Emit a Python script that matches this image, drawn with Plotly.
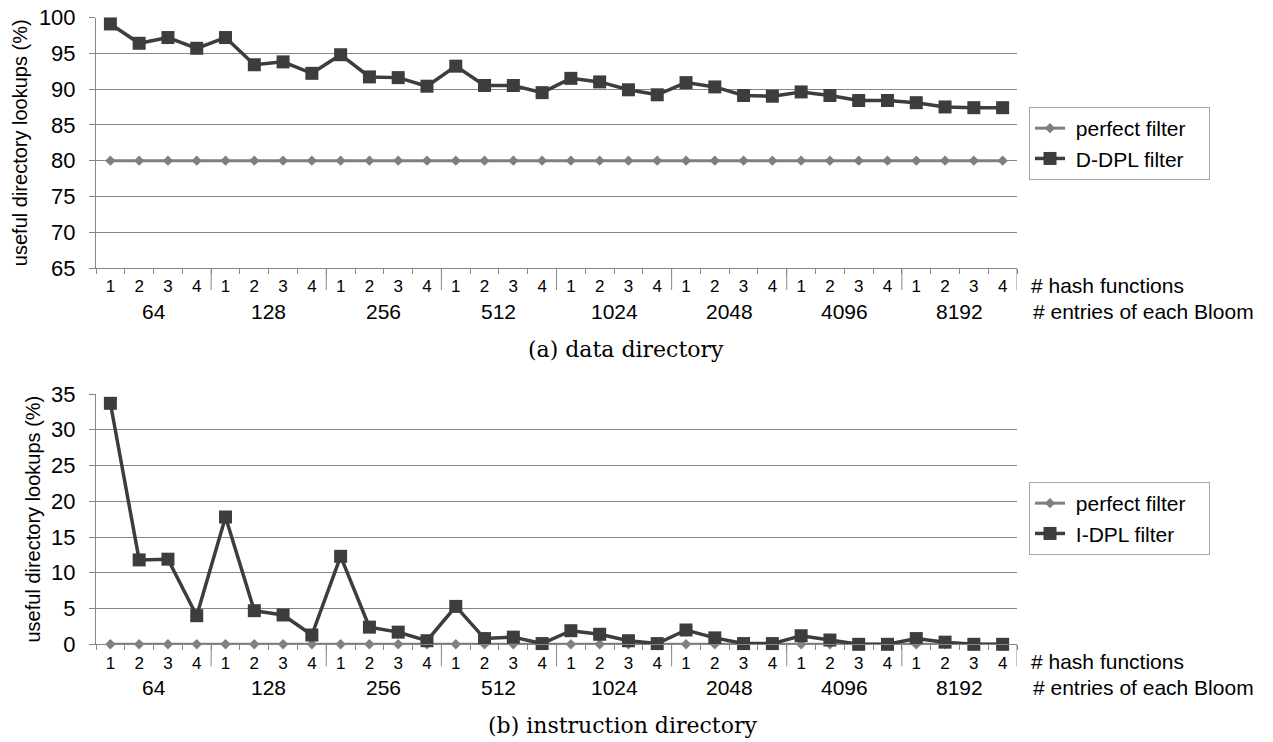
import plotly.graph_objects as go

# ---------------- data ----------------
bloom_entries = ["64", "128", "256", "512", "1024", "2048", "4096", "8192"]
hash_functions = ["1", "2", "3", "4"]

perfect_data = [80, 80, 80, 80, 80, 80, 80, 80, 80, 80, 80, 80, 80, 80, 80, 80,
                80, 80, 80, 80, 80, 80, 80, 80, 80, 80, 80, 80, 80, 80, 80, 80]
d_dpl = [99.1, 96.4, 97.2, 95.7, 97.2, 93.4, 93.8, 92.2,
         94.8, 91.7, 91.6, 90.4, 93.2, 90.5, 90.5, 89.5,
         91.5, 91.0, 89.9, 89.2, 90.9, 90.3, 89.1, 89.0,
         89.6, 89.1, 88.4, 88.4, 88.1, 87.5, 87.4, 87.4]

perfect_instr = [0, 0, 0, 0, 0, 0, 0, 0, 0, 0, 0, 0, 0, 0, 0, 0,
                 0, 0, 0, 0, 0, 0, 0, 0, 0, 0, 0, 0, 0, 0, 0, 0]
i_dpl = [33.7, 11.8, 11.9, 4.0, 17.8, 4.7, 4.1, 1.3,
         12.3, 2.4, 1.7, 0.5, 5.3, 0.8, 1.0, 0.1,
         1.9, 1.4, 0.5, 0.1, 2.0, 0.9, 0.1, 0.1,
         1.2, 0.6, 0.0, 0.0, 0.8, 0.3, 0.0, 0.0]

series_names_a = ["perfect filter", "D-DPL filter"]
series_names_b = ["perfect filter", "I-DPL filter"]
y_title = "useful directory lookups (%)"
caption_a = "(a) data directory"
caption_b = "(b) instruction directory"
row_label_hash = "# hash functions"
row_label_entries = "# entries of each Bloom"

# ---------------- derived ----------------
n_per_group = len(hash_functions)
n = len(bloom_entries) * n_per_group
xs = list(range(n))
tick_text = [hash_functions[i % n_per_group] for i in xs]
boundaries = [i - 0.5 for i in range(n + 1)]
separators = [g * n_per_group - 0.5 for g in range(1, len(bloom_entries) + 1)]
group_centers = [g * n_per_group + (n_per_group - 1) / 2 for g in range(len(bloom_entries))]

NB = "\u00a0"


def legend_name(s, width=15):
    # pad with non-breaking spaces so the legend box gets the reference's padding
    return NB + s + NB * max(3, width - len(s))


W, H = 1273, 742
FONT = "Liberation Sans"
SERIF = "DejaVu Serif"
GRID = "#868686"
DARK = "#3d3d3d"
LIGHT = "#7f7f7f"

px_left, px_right = 96, 1017
top_y0, top_y1 = 17.5, 268.0
bot_y0, bot_y1 = 394.0, 644.3


def dom_y(a, b):
    return [(H - b) / H, (H - a) / H]


fig = go.Figure()

fig.add_trace(go.Scatter(x=xs, y=perfect_data, name=legend_name(series_names_a[0]), mode="lines+markers",
                         line=dict(color=LIGHT, width=3),
                         marker=dict(symbol="diamond", size=8, color=LIGHT),
                         xaxis="x", yaxis="y", legend="legend", cliponaxis=False))
fig.add_trace(go.Scatter(x=xs, y=d_dpl, name=legend_name(series_names_a[1]), mode="lines+markers",
                         line=dict(color=DARK, width=3.5),
                         marker=dict(symbol="square", size=13, color=DARK),
                         xaxis="x", yaxis="y", legend="legend", cliponaxis=False))
fig.add_trace(go.Scatter(x=xs, y=perfect_instr, name=legend_name(series_names_b[0]), mode="lines+markers",
                         line=dict(color=LIGHT, width=3),
                         marker=dict(symbol="diamond", size=8, color=LIGHT),
                         xaxis="x2", yaxis="y2", legend="legend2", cliponaxis=False))
fig.add_trace(go.Scatter(x=xs, y=i_dpl, name=legend_name(series_names_b[1]), mode="lines+markers",
                         line=dict(color=DARK, width=3.5),
                         marker=dict(symbol="square", size=13, color=DARK),
                         xaxis="x2", yaxis="y2", legend="legend2", cliponaxis=False))

xdom = [px_left / W, px_right / W]


def xaxis_cfg(anchor):
    return dict(domain=xdom, anchor=anchor, range=[-0.5, n - 0.5], showgrid=False,
                zeroline=False, showline=True, linecolor=GRID, linewidth=1,
                tickmode="array", tickvals=xs, ticktext=tick_text, ticks="",
                tickfont=dict(family=FONT, size=17, color="black"),
                ticklabelstandoff=3,
                minor=dict(tickmode="array", tickvals=boundaries, ticks="outside",
                           ticklen=5, tickcolor=GRID, tickwidth=1, showgrid=False),
                automargin=False, fixedrange=True)


def yaxis_cfg(anchor, dom, rng):
    return dict(domain=dom, anchor=anchor, range=rng, dtick=5, tick0=0,
                showgrid=True, gridcolor=GRID, gridwidth=1.3, zeroline=False,
                showline=True, linecolor=GRID, linewidth=1,
                ticks="outside", ticklen=6, tickcolor=GRID,
                ticklabelstandoff=9,
                tickfont=dict(family=FONT, size=22, color="black"),
                title=dict(text=y_title, font=dict(family=FONT, size=20, color="black"), standoff=5),
                automargin=False, fixedrange=True)


legend_common = dict(xanchor="left", yanchor="top",
                     bordercolor="#a6a6a6", borderwidth=1, bgcolor="white",
                     font=dict(family=FONT, size=21, color="black"), tracegroupgap=0)

layout = dict(
    width=W, height=H, margin=dict(l=0, r=0, t=0, b=0),
    paper_bgcolor="white", plot_bgcolor="white",
    xaxis=xaxis_cfg("y"),
    yaxis=yaxis_cfg("x", dom_y(top_y0, top_y1), [65, 100]),
    xaxis2=xaxis_cfg("y2"),
    yaxis2=yaxis_cfg("x2", dom_y(bot_y0, bot_y1), [0, 35]),
    legend=dict(x=1029 / W, y=(H - 107) / H, **legend_common),
    legend2=dict(x=1029 / W, y=(H - 482) / H, **legend_common),
    showlegend=True,
)
fig.update_layout(**layout)

shapes = []
annotations = []
for xr, yr, y0, y1 in (("x", "y", top_y0, top_y1), ("x2", "y2", bot_y0, bot_y1)):
    h = y1 - y0
    for b in separators:
        shapes.append(dict(type="line", xref=xr, yref=yr + " domain", x0=b, x1=b,
                           y0=0, y1=-22 / h, line=dict(color=GRID, width=1)))
    for gc, lab in zip(group_centers, bloom_entries):
        annotations.append(dict(x=gc, y=-43 / h, xref=xr, yref=yr + " domain", text=lab,
                                showarrow=False, xanchor="center", yanchor="middle",
                                font=dict(family=FONT, size=21, color="black")))
    annotations.append(dict(x=1029 / W, y=-17 / h, xref="paper", yref=yr + " domain",
                            text=row_label_hash, showarrow=False, xanchor="left",
                            yanchor="middle", font=dict(family=FONT, size=21, color="black")))
    annotations.append(dict(x=1031 / W, y=-43 / h, xref="paper", yref=yr + " domain",
                            text=row_label_entries, showarrow=False, xanchor="left",
                            yanchor="middle", font=dict(family=FONT, size=21, color="black")))

annotations.append(dict(x=626 / W, y=(H - 349) / H, xref="paper", yref="paper", text=caption_a,
                        showarrow=False, xanchor="center", yanchor="middle",
                        font=dict(family=SERIF, size=22, color="black")))
annotations.append(dict(x=622 / W, y=(H - 725) / H, xref="paper", yref="paper", text=caption_b,
                        showarrow=False, xanchor="center", yanchor="middle",
                        font=dict(family=SERIF, size=22, color="black")))

fig.update_layout(shapes=shapes, annotations=annotations)
fig.write_html("out.html")
